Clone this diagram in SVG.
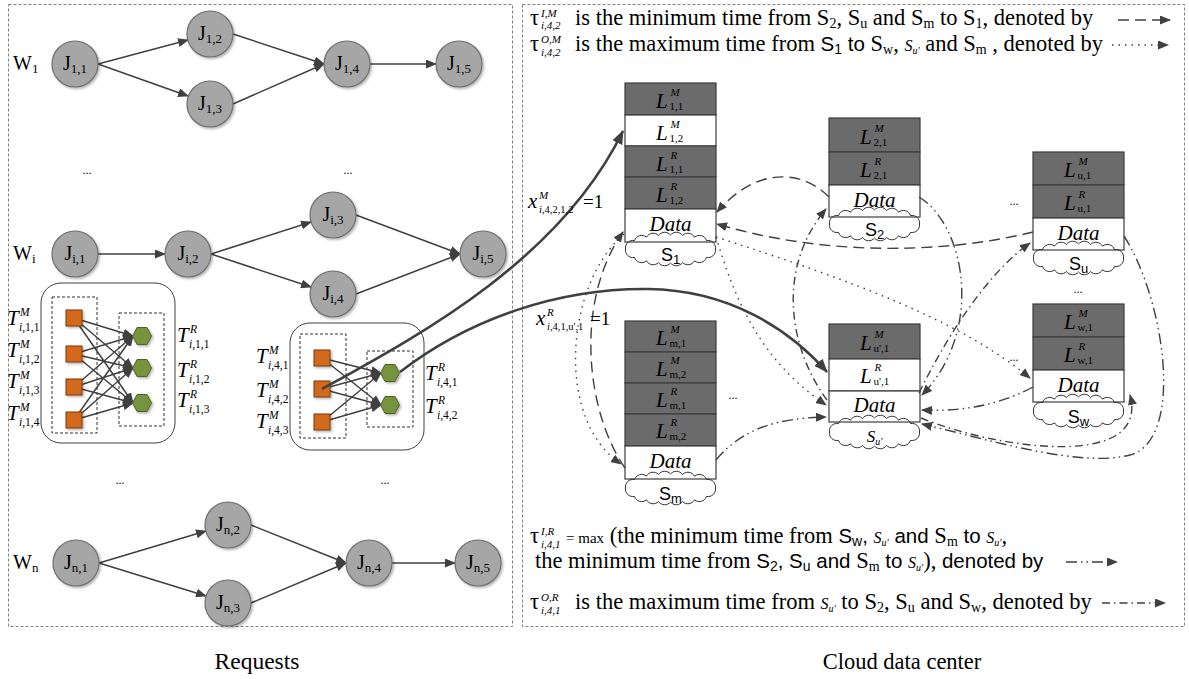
<svg xmlns="http://www.w3.org/2000/svg" width="1189" height="679" viewBox="0 0 1189 679">
<style>
.f{font-family:"Liberation Serif",serif;fill:#000}
.sa{font-family:"Liberation Sans",sans-serif}
.it{font-style:italic}
.pan{fill:none;stroke:#808080;stroke-width:1;stroke-dasharray:3,2}
.nd{fill:#a6a6a6;stroke:#6e6e6e;stroke-width:1.2}
.e{fill:none;stroke:#404040;stroke-width:1.5}
.c{fill:none;stroke:#404040;stroke-width:1.4}
.thk{fill:none;stroke:#404040;stroke-width:2.6}
.d1{stroke-dasharray:11,6}
.d2{stroke-dasharray:1.5,5}
.d3{stroke-dasharray:11,4,1.5,4,1.5,4}
.d4{stroke-dasharray:8,4,1.5,4}
.dk{fill:#6b6b6b;stroke:#3c3c3c;stroke-width:1.2}
.wh{fill:#fff;stroke:#3c3c3c;stroke-width:1.2}
.cl{fill:none;stroke:#303030;stroke-width:1}
.box{fill:#fff;stroke:#404040;stroke-width:1}
.ib{fill:none;stroke:#303030;stroke-width:1;stroke-dasharray:3,2}
.sq{fill:#d2691e;stroke:#7a3a0a;stroke-width:1}
.hx{fill:#77933c;stroke:#4f6228;stroke-width:1}
.jl{font-family:"Liberation Serif",serif;font-size:20px;text-anchor:middle}
</style>
<defs>
<filter id="sh" x="-30%" y="-30%" width="170%" height="170%"><feDropShadow dx="1.5" dy="1.5" stdDeviation="1" flood-color="#000" flood-opacity="0.3"/></filter>
<marker id="ah" markerUnits="userSpaceOnUse" markerWidth="11" markerHeight="9" viewBox="0 0 11 9" refX="10" refY="4.5" orient="auto"><path d="M0,0 L11,4.5 L0,9 z" fill="#404040"/></marker>
<marker id="ahb" markerUnits="userSpaceOnUse" markerWidth="14" markerHeight="11" viewBox="0 0 14 11" refX="13" refY="5.5" orient="auto"><path d="M0,0 L14,5.5 L0,11 z" fill="#404040"/></marker>
<path id="cloud" d="M45,0 A7.5,7.5 0 0 1 36,8.4 A7.5,7.5 0 0 1 24,11.8 A7.5,7.5 0 0 1 12,13.5 A7.5,7.5 0 0 1 0,14 A7.5,7.5 0 0 1 -12,13.5 A7.5,7.5 0 0 1 -24,11.8 A7.5,7.5 0 0 1 -36,8.4 A7.5,7.5 0 0 1 -45,0 A7.5,7.5 0 0 1 -36,-8.4 A7.5,7.5 0 0 1 -24,-11.8 A7.5,7.5 0 0 1 -12,-13.5 A7.5,7.5 0 0 1 0,-14 A7.5,7.5 0 0 1 12,-13.5 A7.5,7.5 0 0 1 24,-11.8 A7.5,7.5 0 0 1 36,-8.4 A7.5,7.5 0 0 1 45,0 Z"/>
</defs>
<rect width="1189" height="679" fill="#fff"/>

<g id="panels">
<rect class="pan" x="8.5" y="4.5" width="504" height="622"/>
<rect class="pan" x="522.5" y="4.5" width="662" height="622"/>
<text class="f" x="257" y="669" font-size="23.5" text-anchor="middle">Requests</text>
<text class="f" x="902" y="669" font-size="22.5" text-anchor="middle">Cloud data center</text>
</g>

<g id="wlabels" class="f" font-size="20">
<text x="13" y="70">W<tspan font-size="13" dy="3">1</tspan></text>
<text x="13" y="260">W<tspan font-size="13" dy="3">i</tspan></text>
<text x="13" y="569">W<tspan font-size="13" dy="3">n</tspan></text>
<text x="87" y="174" font-size="12" text-anchor="middle">...</text>
<text x="348" y="174" font-size="12" text-anchor="middle">...</text>
<text x="120" y="484" font-size="12" text-anchor="middle">...</text>
<text x="385" y="484" font-size="12" text-anchor="middle">...</text>
</g>

<g id="wf-edges" class="e" marker-end="url(#ah)">
<line x1="98" y1="64" x2="188" y2="40"/>
<line x1="98" y1="64" x2="188" y2="96"/>
<line x1="233" y1="34" x2="324" y2="64"/>
<line x1="233" y1="104" x2="324" y2="64"/>
<line x1="370" y1="64" x2="436" y2="64"/>
<line x1="98" y1="254" x2="165" y2="254"/>
<line x1="211" y1="254" x2="311" y2="222"/>
<line x1="211" y1="254" x2="311" y2="287"/>
<line x1="356" y1="215" x2="460" y2="254"/>
<line x1="356" y1="294" x2="460" y2="254"/>
<line x1="99" y1="563" x2="206" y2="531"/>
<line x1="99" y1="563" x2="206" y2="596"/>
<line x1="251" y1="525" x2="346" y2="563"/>
<line x1="251" y1="603" x2="346" y2="563"/>
<line x1="392" y1="563" x2="455" y2="563"/>
</g>

<g id="J11"><circle class="nd" cx="75" cy="64" r="23" filter="url(#sh)"/><text class="jl" x="75" y="70">J<tspan font-size="13" dy="3">1,1</tspan></text></g>
<g id="J12"><circle class="nd" cx="210" cy="34" r="23" filter="url(#sh)"/><text class="jl" x="210" y="40">J<tspan font-size="13" dy="3">1,2</tspan></text></g>
<g id="J13"><circle class="nd" cx="210" cy="104" r="23" filter="url(#sh)"/><text class="jl" x="210" y="110">J<tspan font-size="13" dy="3">1,3</tspan></text></g>
<g id="J14"><circle class="nd" cx="347" cy="64" r="23" filter="url(#sh)"/><text class="jl" x="347" y="70">J<tspan font-size="13" dy="3">1,4</tspan></text></g>
<g id="J15"><circle class="nd" cx="459" cy="64" r="23" filter="url(#sh)"/><text class="jl" x="459" y="70">J<tspan font-size="13" dy="3">1,5</tspan></text></g>

<g id="Ji1"><circle class="nd" cx="75" cy="254" r="23" filter="url(#sh)"/><text class="jl" x="75" y="260">J<tspan font-size="13" dy="3">i,1</tspan></text></g>
<g id="Ji2"><circle class="nd" cx="188" cy="254" r="23" filter="url(#sh)"/><text class="jl" x="188" y="260">J<tspan font-size="13" dy="3">i,2</tspan></text></g>
<g id="Ji3"><circle class="nd" cx="333" cy="215" r="23" filter="url(#sh)"/><text class="jl" x="333" y="221">J<tspan font-size="13" dy="3">i,3</tspan></text></g>
<g id="Ji4"><circle class="nd" cx="333" cy="294" r="23" filter="url(#sh)"/><text class="jl" x="333" y="300">J<tspan font-size="13" dy="3">i,4</tspan></text></g>
<g id="Ji5"><circle class="nd" cx="483" cy="254" r="23" filter="url(#sh)"/><text class="jl" x="483" y="260">J<tspan font-size="13" dy="3">i,5</tspan></text></g>

<g id="Jn1"><circle class="nd" cx="76" cy="563" r="23" filter="url(#sh)"/><text class="jl" x="76" y="569">J<tspan font-size="13" dy="3">n,1</tspan></text></g>
<g id="Jn2"><circle class="nd" cx="228" cy="525" r="23" filter="url(#sh)"/><text class="jl" x="228" y="531">J<tspan font-size="13" dy="3">n,2</tspan></text></g>
<g id="Jn3"><circle class="nd" cx="228" cy="603" r="23" filter="url(#sh)"/><text class="jl" x="228" y="609">J<tspan font-size="13" dy="3">n,3</tspan></text></g>
<g id="Jn4"><circle class="nd" cx="369" cy="563" r="23" filter="url(#sh)"/><text class="jl" x="369" y="569">J<tspan font-size="13" dy="3">n,4</tspan></text></g>
<g id="Jn5"><circle class="nd" cx="478" cy="563" r="23" filter="url(#sh)"/><text class="jl" x="478" y="569">J<tspan font-size="13" dy="3">n,5</tspan></text></g>

<g id="taskbox1">
<rect class="box" x="41" y="283" width="134" height="160" rx="20"/>
<rect class="ib" x="52" y="297" width="45" height="136"/>
<rect class="ib" x="119" y="313" width="45" height="113"/>
<g class="e" stroke-width="1.3" marker-end="url(#ah)">
<line x1="74" y1="318" x2="133" y2="336"/><line x1="74" y1="318" x2="133" y2="368"/><line x1="74" y1="318" x2="133" y2="403"/>
<line x1="74" y1="354" x2="133" y2="336"/><line x1="74" y1="354" x2="133" y2="368"/><line x1="74" y1="354" x2="133" y2="403"/>
<line x1="74" y1="387" x2="133" y2="336"/><line x1="74" y1="387" x2="133" y2="368"/><line x1="74" y1="387" x2="133" y2="403"/>
<line x1="74" y1="420" x2="133" y2="336"/><line x1="74" y1="420" x2="133" y2="368"/><line x1="74" y1="420" x2="133" y2="403"/>
</g>
<rect class="sq" x="66" y="310" width="16" height="16" filter="url(#sh)"/>
<rect class="sq" x="66" y="346" width="16" height="16" filter="url(#sh)"/>
<rect class="sq" x="66" y="379" width="16" height="16" filter="url(#sh)"/>
<rect class="sq" x="66" y="412" width="16" height="16" filter="url(#sh)"/>
<polygon class="hx" points="132.5,336 137,327.5 147,327.5 151.5,336 147,344.5 137,344.5" filter="url(#sh)"/>
<polygon class="hx" points="132.5,368 137,359.5 147,359.5 151.5,368 147,376.5 137,376.5" filter="url(#sh)"/>
<polygon class="hx" points="132.5,403 137,394.5 147,394.5 151.5,403 147,411.5 137,411.5" filter="url(#sh)"/>
<g class="f" font-size="11.5">
<text><tspan class="it" font-size="21" x="7" y="325">T</tspan><tspan class="it" x="20" y="316">M</tspan><tspan x="19" y="331"><tspan class="it">i</tspan>,1,1</tspan></text>
<text><tspan class="it" font-size="21" x="7" y="357">T</tspan><tspan class="it" x="20" y="348">M</tspan><tspan x="19" y="363"><tspan class="it">i</tspan>,1,2</tspan></text>
<text><tspan class="it" font-size="21" x="7" y="388">T</tspan><tspan class="it" x="20" y="379">M</tspan><tspan x="19" y="394"><tspan class="it">i</tspan>,1,3</tspan></text>
<text><tspan class="it" font-size="21" x="7" y="420">T</tspan><tspan class="it" x="20" y="411">M</tspan><tspan x="19" y="426"><tspan class="it">i</tspan>,1,4</tspan></text>
<text><tspan class="it" font-size="21" x="177" y="342">T</tspan><tspan class="it" x="190" y="333">R</tspan><tspan x="189" y="348"><tspan class="it">i</tspan>,1,1</tspan></text>
<text><tspan class="it" font-size="21" x="177" y="377">T</tspan><tspan class="it" x="190" y="368">R</tspan><tspan x="189" y="383"><tspan class="it">i</tspan>,1,2</tspan></text>
<text><tspan class="it" font-size="21" x="177" y="407">T</tspan><tspan class="it" x="190" y="398">R</tspan><tspan x="189" y="413"><tspan class="it">i</tspan>,1,3</tspan></text>
</g>
</g>

<g id="taskbox4">
<rect class="box" x="290" y="323" width="134" height="127" rx="20"/>
<rect class="ib" x="300" y="334" width="46" height="104"/>
<rect class="ib" x="367" y="351" width="46" height="76"/>
<g class="e" stroke-width="1.3" marker-end="url(#ah)">
<line x1="322" y1="358" x2="381" y2="373"/><line x1="322" y1="358" x2="381" y2="405"/>
<line x1="322" y1="389" x2="381" y2="373"/><line x1="322" y1="389" x2="381" y2="405"/>
<line x1="322" y1="422" x2="381" y2="373"/><line x1="322" y1="422" x2="381" y2="405"/>
</g>
<rect class="sq" x="314" y="350" width="16" height="16" filter="url(#sh)"/>
<rect class="sq" x="314" y="381" width="16" height="16" filter="url(#sh)"/>
<rect class="sq" x="314" y="414" width="16" height="16" filter="url(#sh)"/>
<polygon class="hx" points="380.5,373 385,364.5 395,364.5 399.5,373 395,381.5 385,381.5" filter="url(#sh)"/>
<polygon class="hx" points="380.5,405 385,396.5 395,396.5 399.5,405 395,413.5 385,413.5" filter="url(#sh)"/>
<g class="f" font-size="11.5">
<text><tspan class="it" font-size="21" x="256" y="363">T</tspan><tspan class="it" x="269" y="354">M</tspan><tspan x="268" y="369"><tspan class="it">i</tspan>,4,1</tspan></text>
<text><tspan class="it" font-size="21" x="256" y="397">T</tspan><tspan class="it" x="269" y="388">M</tspan><tspan x="268" y="403"><tspan class="it">i</tspan>,4,2</tspan></text>
<text><tspan class="it" font-size="21" x="256" y="428">T</tspan><tspan class="it" x="269" y="419">M</tspan><tspan x="268" y="434"><tspan class="it">i</tspan>,4,3</tspan></text>
<text><tspan class="it" font-size="21" x="425" y="380">T</tspan><tspan class="it" x="438" y="371">R</tspan><tspan x="437" y="386"><tspan class="it">i</tspan>,4,1</tspan></text>
<text><tspan class="it" font-size="21" x="425" y="413">T</tspan><tspan class="it" x="438" y="404">R</tspan><tspan x="437" y="419"><tspan class="it">i</tspan>,4,2</tspan></text>
</g>
</g>

<g id="server-S1">
<rect class="dk" x="625" y="83" width="91" height="32"/>
<rect class="wh" x="625" y="115" width="91" height="31"/>
<rect class="dk" x="625" y="146" width="91" height="31"/>
<rect class="dk" x="625" y="177" width="91" height="32"/>
<rect class="wh" x="625" y="209" width="91" height="33"/>
<g class="f" font-size="11">
<text><tspan class="it" font-size="21" x="656" y="108">L</tspan><tspan class="it" x="670.5" y="96">M</tspan><tspan x="669.5" y="110">1,1</tspan></text>
<text><tspan class="it" font-size="21" x="656" y="140">L</tspan><tspan class="it" x="670.5" y="128">M</tspan><tspan x="669.5" y="142">1,2</tspan></text>
<text><tspan class="it" font-size="21" x="656" y="171">L</tspan><tspan class="it" x="670.5" y="159">R</tspan><tspan x="669.5" y="173">1,1</tspan></text>
<text><tspan class="it" font-size="21" x="656" y="202">L</tspan><tspan class="it" x="670.5" y="190">R</tspan><tspan x="669.5" y="204">1,2</tspan></text>
</g>
<text class="f it" x="670.5" y="231" font-size="21" text-anchor="middle">Data</text>
<use href="#cloud" class="cl" x="670.5" y="249"/>
<text class="f sa" x="670.5" y="261" font-size="18" text-anchor="middle">S<tspan font-size="13" dy="3">1</tspan></text>
</g>

<g id="server-S2">
<rect class="dk" x="829" y="118" width="91" height="34"/>
<rect class="dk" x="829" y="152" width="91" height="33"/>
<rect class="wh" x="829" y="185" width="91" height="32"/>
<g class="f" font-size="11">
<text><tspan class="it" font-size="21" x="860" y="144">L</tspan><tspan class="it" x="874.5" y="132">M</tspan><tspan x="873.5" y="146">2,1</tspan></text>
<text><tspan class="it" font-size="21" x="860" y="177">L</tspan><tspan class="it" x="874.5" y="165">R</tspan><tspan x="873.5" y="179">2,1</tspan></text>
</g>
<text class="f it" x="874.5" y="207" font-size="21" text-anchor="middle">Data</text>
<use href="#cloud" class="cl" x="874.5" y="224"/>
<text class="f sa" x="874.5" y="236" font-size="18" text-anchor="middle">S<tspan font-size="13" dy="3">2</tspan></text>
</g>

<g id="server-Su">
<rect class="dk" x="1033" y="152" width="91" height="33"/>
<rect class="dk" x="1033" y="185" width="91" height="33"/>
<rect class="wh" x="1033" y="218" width="91" height="32"/>
<g class="f" font-size="11">
<text><tspan class="it" font-size="21" x="1064" y="177">L</tspan><tspan class="it" x="1078.5" y="165">M</tspan><tspan x="1077.5" y="179">u,1</tspan></text>
<text><tspan class="it" font-size="21" x="1064" y="210">L</tspan><tspan class="it" x="1078.5" y="198">R</tspan><tspan x="1077.5" y="212">u,1</tspan></text>
</g>
<text class="f it" x="1078.5" y="240" font-size="21" text-anchor="middle">Data</text>
<use href="#cloud" class="cl" x="1078.5" y="258"/>
<text class="f sa" x="1078.5" y="270" font-size="18" text-anchor="middle">S<tspan font-size="13" dy="3">u</tspan></text>
</g>

<g id="server-Sw">
<rect class="dk" x="1033" y="304" width="91" height="33"/>
<rect class="dk" x="1033" y="337" width="91" height="33"/>
<rect class="wh" x="1033" y="370" width="91" height="32"/>
<g class="f" font-size="11">
<text><tspan class="it" font-size="21" x="1064" y="329">L</tspan><tspan class="it" x="1078.5" y="317">M</tspan><tspan x="1077.5" y="331">w,1</tspan></text>
<text><tspan class="it" font-size="21" x="1064" y="362">L</tspan><tspan class="it" x="1078.5" y="350">R</tspan><tspan x="1077.5" y="364">w,1</tspan></text>
</g>
<text class="f it" x="1078.5" y="392" font-size="21" text-anchor="middle">Data</text>
<use href="#cloud" class="cl" x="1078.5" y="411"/>
<text class="f sa" x="1078.5" y="423" font-size="18" text-anchor="middle">S<tspan font-size="13" dy="3">w</tspan></text>
</g>

<g id="server-Su2">
<rect class="dk" x="829" y="324" width="91" height="35"/>
<rect class="wh" x="829" y="359" width="91" height="32"/>
<rect class="wh" x="829" y="391" width="91" height="31"/>
<g class="f" font-size="11">
<text><tspan class="it" font-size="21" x="860" y="350">L</tspan><tspan class="it" x="874.5" y="338">M</tspan><tspan x="873.5" y="352">u',1</tspan></text>
<text><tspan class="it" font-size="21" x="860" y="383">L</tspan><tspan class="it" x="874.5" y="371">R</tspan><tspan x="873.5" y="385">u',1</tspan></text>
</g>
<text class="f it" x="874.5" y="412" font-size="21" text-anchor="middle">Data</text>
<use href="#cloud" class="cl" x="874.5" y="432"/>
<text class="f it" x="874.5" y="442" font-size="17" text-anchor="middle">S<tspan font-size="10" dy="3">u'</tspan></text>
</g>

<g id="server-Sm">
<rect class="dk" x="625" y="321" width="91" height="31"/>
<rect class="dk" x="625" y="352" width="91" height="31"/>
<rect class="dk" x="625" y="383" width="91" height="31"/>
<rect class="dk" x="625" y="414" width="91" height="32"/>
<rect class="wh" x="625" y="446" width="91" height="33"/>
<g class="f" font-size="11">
<text><tspan class="it" font-size="21" x="656" y="345">L</tspan><tspan class="it" x="670.5" y="333">M</tspan><tspan x="669.5" y="347">m,1</tspan></text>
<text><tspan class="it" font-size="21" x="656" y="376">L</tspan><tspan class="it" x="670.5" y="364">M</tspan><tspan x="669.5" y="378">m,2</tspan></text>
<text><tspan class="it" font-size="21" x="656" y="407">L</tspan><tspan class="it" x="670.5" y="395">R</tspan><tspan x="669.5" y="409">m,1</tspan></text>
<text><tspan class="it" font-size="21" x="656" y="438">L</tspan><tspan class="it" x="670.5" y="426">R</tspan><tspan x="669.5" y="440">m,2</tspan></text>
</g>
<text class="f it" x="670.5" y="468" font-size="21" text-anchor="middle">Data</text>
<use href="#cloud" class="cl" x="670.5" y="488"/>
<text class="f sa" x="670.5" y="500" font-size="18" text-anchor="middle">S<tspan font-size="13" dy="3">m</tspan></text>
</g>

<g id="rdots" class="f" font-size="12" text-anchor="middle">
<text x="733" y="399">...</text>
<text x="1014" y="205">...</text>
<text x="1078" y="293">...</text>
<text x="1014" y="361">...</text>
</g>

<g id="connectors">
<path class="thk" marker-end="url(#ahb)" d="M322,389 C420,335 560,260 623,131"/>
<path class="thk" marker-end="url(#ahb)" d="M400,372 C470,318 560,288 648,289 C730,290 790,330 827,372"/>
<g class="c" marker-end="url(#ah)">
<path class="d1" d="M829,197 C800,168 755,168 717,212"/>
<path class="d1" d="M1033,232 C940,255 820,255 717,224"/>
<path class="d1" d="M625,468 C585,410 575,300 623,232"/>
<path class="d2" d="M716,237 C735,300 760,360 826,405"/>
<path class="d2" d="M716,237 C850,280 960,320 1030,378"/>
<path class="d2" d="M624,234 C565,285 555,420 621,464"/>
<path class="d3" d="M1033,387 C1000,405 960,412 922,410"/>
<path class="d3" d="M716,460 C745,425 785,418 826,417"/>
<path class="d3" d="M919,197 C965,225 985,330 922,395"/>
<path class="d3" d="M1124,236 C1165,300 1185,440 1130,455 C1080,468 990,440 922,424"/>
<path class="d4" d="M827,400 C790,350 775,270 826,209"/>
<path class="d4" d="M919,393 C945,340 985,275 1030,243"/>
<path class="d4" d="M921,418 C1000,450 1150,470 1130,395"/>
</g>
</g>

<g id="xlabels" class="f" font-size="10.5">
<text><tspan class="it" font-size="21" x="528" y="208">x</tspan><tspan class="it" font-size="11" x="539" y="199">M</tspan><tspan x="539" y="213"><tspan class="it">i</tspan>,4,2,1,2</tspan><tspan font-size="19" x="583" y="208">=1</tspan></text>
<text><tspan class="it" font-size="21" x="536" y="325">x</tspan><tspan class="it" font-size="11" x="547" y="316">R</tspan><tspan x="547" y="330"><tspan class="it">i</tspan>,4,1,u',1</tspan><tspan font-size="19" x="590" y="325">=1</tspan></text>
</g>

<g id="legend" class="f" font-size="22.5">
<text><tspan x="530" y="25">τ</tspan><tspan class="it" font-size="11" x="541" y="17">I,M</tspan><tspan class="it" font-size="11" x="541" y="29">i,4,2</tspan><tspan x="575" y="25">is the minimum time from S</tspan><tspan font-size="14" dy="3">2</tspan><tspan dy="-3">, S</tspan><tspan font-size="14" dy="3">u</tspan><tspan dy="-3"> and S</tspan><tspan font-size="14" dy="3">m</tspan><tspan dy="-3"> to S</tspan><tspan font-size="14" dy="3">1</tspan><tspan dy="-3">, denoted by</tspan></text>
<line class="c d1" x1="1118" y1="20" x2="1170" y2="20" marker-end="url(#ah)"/>

<text><tspan x="530" y="51">τ</tspan><tspan class="it" font-size="11" x="541" y="43">O,M</tspan><tspan class="it" font-size="11" x="541" y="56">i,4,2</tspan><tspan x="575" y="51">is the maximum time from </tspan><tspan class="sa" font-size="20.5">S</tspan><tspan class="sa" font-size="14" dy="3">1</tspan><tspan class="sa" font-size="20.5" dy="-3"> to</tspan><tspan> S</tspan><tspan font-size="14" dy="3">w</tspan><tspan dy="-3">, </tspan><tspan class="it" font-size="16">S</tspan><tspan class="it" font-size="10" dy="3">u'</tspan><tspan dy="-3"> and S</tspan><tspan font-size="14" dy="3">m</tspan><tspan dy="-3"> , denoted by</tspan></text>
<line class="c d2" x1="1112" y1="45" x2="1168" y2="45" marker-end="url(#ah)"/>

<text><tspan x="530" y="543">τ</tspan><tspan class="it" font-size="11" x="541" y="535">I,R</tspan><tspan class="it" font-size="11" x="541" y="548">i,4,1</tspan><tspan font-size="15" x="566" y="543">= max</tspan><tspan> (the minimum time from </tspan><tspan class="sa" font-size="20.5">S</tspan><tspan class="sa" font-size="14" dy="3">w</tspan><tspan class="sa" font-size="20.5" dy="-3">, </tspan><tspan class="it" font-size="16">S</tspan><tspan class="it" font-size="10" dy="3">u'</tspan><tspan class="sa" font-size="20.5" dy="-3"> and </tspan><tspan>S</tspan><tspan font-size="14" dy="3">m</tspan><tspan class="sa" font-size="20.5" dy="-3"> to </tspan><tspan class="it" font-size="16">S</tspan><tspan class="it" font-size="10" dy="3">u'</tspan><tspan dy="-3">,</tspan></text>

<text><tspan x="535" y="568">the minimum time from </tspan><tspan class="sa" font-size="20.5">S</tspan><tspan class="sa" font-size="14" dy="3">2</tspan><tspan class="sa" font-size="20.5" dy="-3">, S</tspan><tspan class="sa" font-size="14" dy="3">u</tspan><tspan class="sa" font-size="20.5" dy="-3"> and</tspan><tspan> S</tspan><tspan font-size="14" dy="3">m</tspan><tspan class="sa" font-size="20.5" dy="-3"> to </tspan><tspan class="it" font-size="16">S</tspan><tspan class="it" font-size="10" dy="3">u'</tspan><tspan dy="-3">), </tspan><tspan class="sa" font-size="20.5"> denoted by</tspan></text>
<line class="c d3" x1="1066" y1="562" x2="1117" y2="562" marker-end="url(#ah)"/>

<text><tspan x="530" y="609">τ</tspan><tspan class="it" font-size="11" x="541" y="601">O,R</tspan><tspan class="it" font-size="11" x="541" y="614">i,4,1</tspan><tspan x="575" y="609">is the maximum time from </tspan><tspan class="it" font-size="16">S</tspan><tspan class="it" font-size="10" dy="3">u'</tspan><tspan dy="-3"> to S</tspan><tspan font-size="14" dy="3">2</tspan><tspan dy="-3">, S</tspan><tspan font-size="14" dy="3">u</tspan><tspan dy="-3"> and S</tspan><tspan font-size="14" dy="3">w</tspan><tspan dy="-3">, denoted by</tspan></text>
<line class="c d4" x1="1102" y1="603" x2="1165" y2="603" marker-end="url(#ah)"/>
</g>
</svg>
